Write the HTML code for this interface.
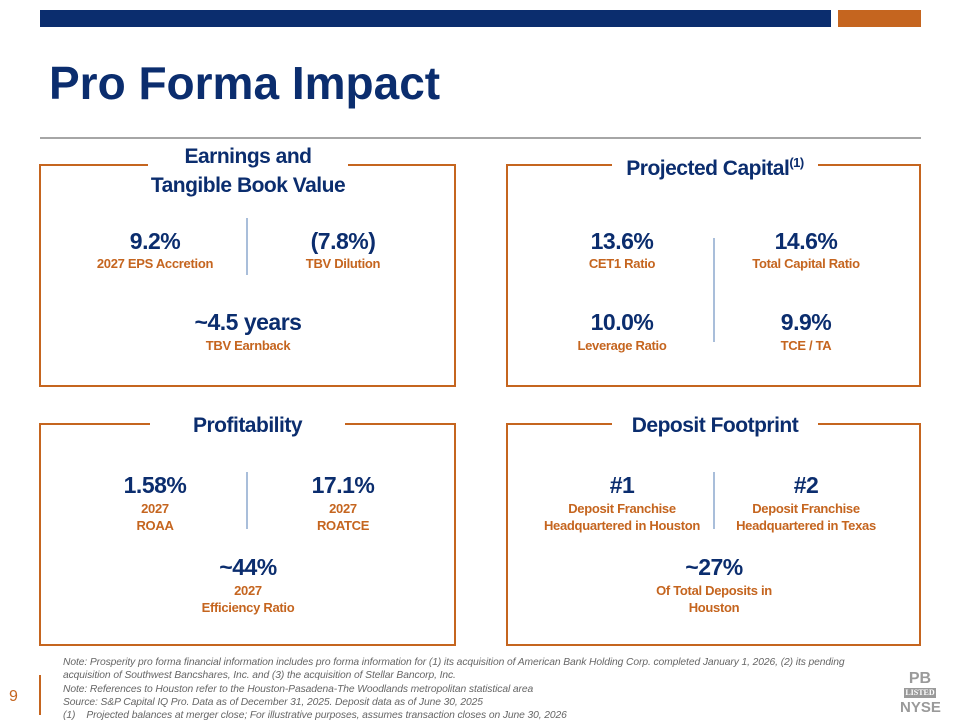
<!DOCTYPE html>
<html><head><meta charset="utf-8"><style>
body{margin:0;width:960px;height:720px;position:relative;background:#fff;overflow:hidden;font-family:"Liberation Sans",sans-serif}
div{position:absolute}
.box{border:2px solid #C5651F;box-sizing:border-box}
.hd{background:#fff;text-align:center;color:#0B2D6E;font-weight:bold;font-size:21px;line-height:29px;letter-spacing:-0.5px}
.v{width:200px;text-align:center;color:#0B2D6E;font-weight:bold;font-size:23px;line-height:26px;letter-spacing:-0.5px}
.l{width:200px;text-align:center;color:#C5651F;font-weight:bold;font-size:13px;line-height:17px;letter-spacing:-0.3px}
.dv{width:2px;background:#A9BEDA}
.note{left:63px;font-style:italic;color:#666;font-size:10.3px;line-height:13.3px;letter-spacing:-0.1px}
</style></head><body>
<div style="left:40px;top:10px;width:791px;height:17px;background:#0B2D6E"></div>
<div style="left:838px;top:10px;width:83px;height:17px;background:#C5651F"></div>
<div style="left:49px;top:56px;font-size:46px;font-weight:bold;color:#0B2D6E;letter-spacing:0px;line-height:54px">Pro Forma Impact</div>
<div style="left:40px;top:137px;width:881px;height:2px;background:#A6A6A6"></div>

<div class="box" style="left:39px;top:164px;width:417px;height:223px"></div>
<div class="box" style="left:506px;top:164px;width:415px;height:223px"></div>
<div class="box" style="left:39px;top:423px;width:417px;height:223px"></div>
<div class="box" style="left:506px;top:423px;width:415px;height:223px"></div>

<div class="hd" style="left:148px;top:142px;width:200px">Earnings and<br>Tangible Book Value</div>
<div class="hd" style="left:612px;top:154px;width:206px">Projected Capital<sup style="font-size:13px;line-height:0">(1)</sup></div>
<div class="hd" style="left:150px;top:411px;width:195px">Profitability</div>
<div class="hd" style="left:612px;top:411px;width:206px">Deposit Footprint</div>

<div class="dv" style="left:246px;top:218px;height:57px"></div>
<div class="dv" style="left:713px;top:238px;height:104px"></div>
<div class="dv" style="left:246px;top:472px;height:57px"></div>
<div class="dv" style="left:713px;top:472px;height:57px"></div>

<div class="v" style="left:55px;top:228px">9.2%</div>
<div class="l" style="left:55px;top:255px">2027 EPS Accretion</div>
<div class="v" style="left:243px;top:228px">(7.8%)</div>
<div class="l" style="left:243px;top:255px">TBV Dilution</div>
<div class="v" style="left:148px;top:309px">~4.5 years</div>
<div class="l" style="left:148px;top:337px">TBV Earnback</div>

<div class="v" style="left:522px;top:228px">13.6%</div>
<div class="l" style="left:522px;top:255px">CET1 Ratio</div>
<div class="v" style="left:706px;top:228px">14.6%</div>
<div class="l" style="left:706px;top:255px">Total Capital Ratio</div>
<div class="v" style="left:522px;top:309px">10.0%</div>
<div class="l" style="left:522px;top:337px">Leverage Ratio</div>
<div class="v" style="left:706px;top:309px">9.9%</div>
<div class="l" style="left:706px;top:337px">TCE / TA</div>

<div class="v" style="left:55px;top:472px">1.58%</div>
<div class="l" style="left:55px;top:500px">2027<br>ROAA</div>
<div class="v" style="left:243px;top:472px">17.1%</div>
<div class="l" style="left:243px;top:500px">2027<br>ROATCE</div>
<div class="v" style="left:148px;top:554px">~44%</div>
<div class="l" style="left:148px;top:582px">2027<br>Efficiency Ratio</div>

<div class="v" style="left:522px;top:472px">#1</div>
<div class="l" style="left:507px;top:500px;width:230px">Deposit Franchise<br>Headquartered in Houston</div>
<div class="v" style="left:706px;top:472px">#2</div>
<div class="l" style="left:691px;top:500px;width:230px">Deposit Franchise<br>Headquartered in Texas</div>
<div class="v" style="left:614px;top:554px">~27%</div>
<div class="l" style="left:614px;top:582px">Of Total Deposits in<br>Houston</div>

<div class="note" style="top:656px;width:840px">Note: Prosperity pro forma financial information includes pro forma information for (1) its acquisition of American Bank Holding Corp. completed January 1, 2026, (2) its pending<br>acquisition of Southwest Bancshares, Inc. and (3) the acquisition of Stellar Bancorp, Inc.<br>Note: References to Houston refer to the Houston-Pasadena-The Woodlands metropolitan statistical area<br>Source: S&amp;P Capital IQ Pro. Data as of December 31, 2025. Deposit data as of June 30, 2025<br>(1)&nbsp;&nbsp;&nbsp;&nbsp;Projected balances at merger close; For illustrative purposes, assumes transaction closes on June 30, 2026</div>
<div style="left:9px;top:688px;font-size:16px;color:#C5651F">9</div>
<div style="left:39px;top:675px;width:2px;height:40px;background:#C5651F"></div>
<div style="left:900px;top:670px;width:40px;text-align:center;color:#9a9a9a;font-weight:bold">
<div style="position:static;font-size:16px;line-height:17px">PB</div>
<div style="position:static;background:#9a9a9a;color:#fff;font-size:8px;line-height:10px;font-family:'Liberation Serif',serif;margin:1px 4px">LISTED</div>
<div style="position:static;font-size:15px;line-height:17px">NYSE</div>
</div>
</body></html>
